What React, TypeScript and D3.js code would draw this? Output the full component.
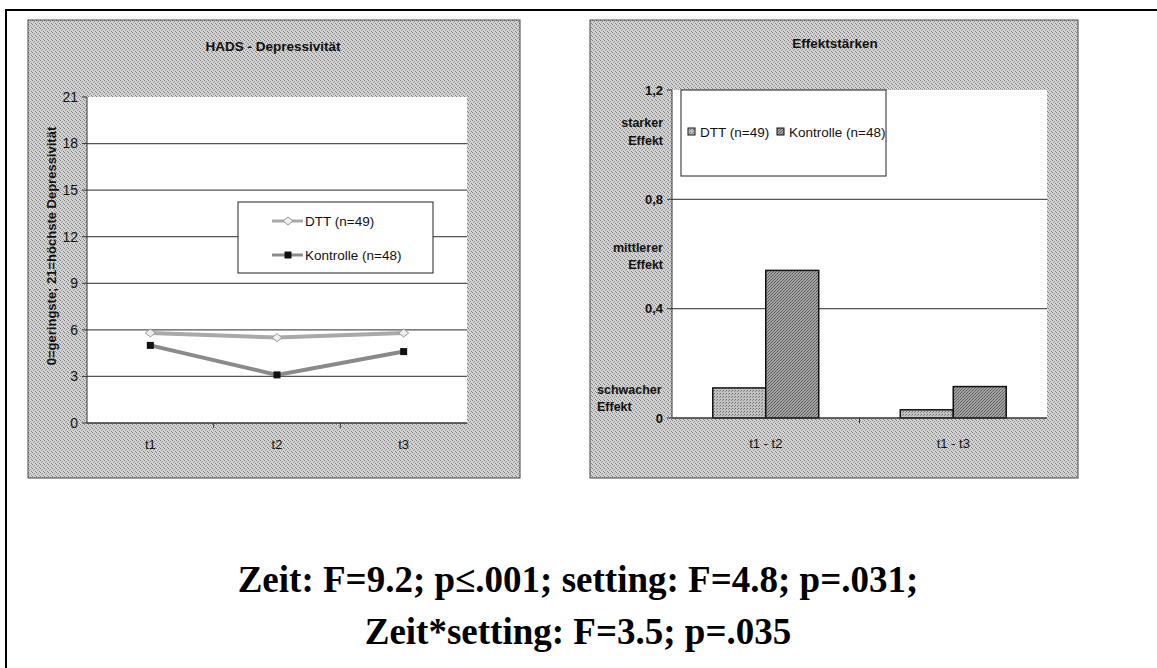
import React from "react";
import * as d3 from "d3";

// ---------- data ----------
const timePoints = ["t1", "t2", "t3"];
const lineSeries = ["DTT (n=49)", "Kontrolle (n=48)"];
const dttValues = [5.8, 5.5, 5.8];
const kontrolleValues = [5.0, 3.1, 4.6];
const leftTicks = [0, 3, 6, 9, 12, 15, 18, 21];
const leftGrid = [3, 6, 9, 12, 15, 18];

const effectCategories = ["t1 - t2", "t1 - t3"];
const barSeries = ["DTT (n=49)", "Kontrolle (n=48)"];
const dttEffects = [0.11, 0.03];
const kontrolleEffects = [0.54, 0.115];
const rightTicks = [0, 0.4, 0.8, 1.2];
const rightTickLabels = ["0", "0,4", "0,8", "1,2"];
const rightGrid = [0.4, 0.8];
const effectLabels = [
  { lines: ["starker", "Effekt"], value: 1.05, align: "end" },
  { lines: ["mittlerer", "Effekt"], value: 0.595, align: "end" },
  { lines: ["schwacher", "Effekt"], value: 0.075, align: "start" },
];

const statLines = [
  "Zeit: F=9.2; p\u2264.001; setting: F=4.8; p=.031;",
  "Zeit*setting: F=3.5; p=.035",
];

const SANS = "'Liberation Sans', Arial, sans-serif";
const SERIF = "'Liberation Serif', 'Times New Roman', serif";

export default function App() {
  // left chart scales
  const xL = d3.scaleBand<string>().domain(timePoints).range([87, 467]);
  const yL = d3.scaleLinear().domain([0, 21]).range([423, 97]);
  const lineGen = d3
    .line<number>()
    .x((_, i) => (xL(timePoints[i]) as number) + xL.bandwidth() / 2)
    .y((d) => yL(d));

  // right chart scales
  const x0 = d3
    .scaleBand<string>()
    .domain(effectCategories)
    .range([672, 1047])
    .paddingInner(0.435)
    .paddingOuter(0.2175);
  const x1 = d3.scaleBand<string>().domain(barSeries).range([0, x0.bandwidth()]);
  const yR = d3.scaleLinear().domain([0, 1.2]).range([418, 90]);
  const barData = [dttEffects, kontrolleEffects];
  const barFills = ["url(#barLight)", "url(#barDark)"];

  const lineColors = ["#a9a9a9", "#8a8a8a"];
  const seriesValues = [dttValues, kontrolleValues];

  return (
    <svg
      width={1157}
      height={668}
      style={{ position: "absolute", left: 0, top: 0, background: "#fff" }}
      fontFamily={SANS}
    >
      <defs>
        <pattern id="halftone" width="4" height="4" patternUnits="userSpaceOnUse">
          <rect width="4" height="4" fill="#d4d4d4" />
          <rect x="0" y="0" width="1" height="1" fill="#7a7a7a" />
          <rect x="2" y="1" width="1" height="1" fill="#8c8c8c" />
          <rect x="1" y="2" width="1" height="1" fill="#9a9a9a" />
          <rect x="3" y="3" width="1" height="1" fill="#808080" />
        </pattern>
        <pattern id="barLight" width="3" height="3" patternUnits="userSpaceOnUse">
          <rect width="3" height="3" fill="#c2c2c2" />
          <rect x="0" y="0" width="1" height="1" fill="#6e6e6e" />
          <rect x="2" y="1" width="1" height="1" fill="#8a8a8a" />
        </pattern>
        <pattern id="barDark" width="3" height="3" patternUnits="userSpaceOnUse">
          <rect width="3" height="3" fill="#a4a4a4" />
          <rect x="0" y="0" width="1" height="1" fill="#555" />
          <rect x="1" y="2" width="1" height="1" fill="#5e5e5e" />
          <rect x="2" y="1" width="1" height="1" fill="#6a6a6a" />
        </pattern>
      </defs>

      {/* outer frame */}
      <line x1={5} y1={10} x2={1157} y2={10} stroke="#000" strokeWidth={2} />
      <line x1={6} y1={10} x2={6} y2={668} stroke="#000" strokeWidth={2} />

      {/* ---------------- LEFT CHART ---------------- */}
      <rect x={28} y={20} width={492} height={458} fill="url(#halftone)" stroke="#444" strokeWidth={1} />
      <text x={273} y={51} textAnchor="middle" fontSize={13.5} fontWeight="bold" fill="#111">
        HADS - Depressivität
      </text>
      <rect x={87} y={97} width={380} height={326} fill="#fff" />
      {leftGrid.map((v) => (
        <line key={v} x1={87} x2={467} y1={yL(v)} y2={yL(v)} stroke="#555" strokeWidth={1.2} />
      ))}
      <line x1={87} x2={87} y1={97} y2={423} stroke="#333" strokeWidth={1} />
      <line x1={87} x2={467} y1={423} y2={423} stroke="#333" strokeWidth={1.5} />
      {leftTicks.map((v) => (
        <g key={v}>
          <line x1={82} x2={87} y1={yL(v)} y2={yL(v)} stroke="#333" />
          <text x={78} y={yL(v)} dy="0.35em" textAnchor="end" fontSize={14} fill="#111">
            {v}
          </text>
        </g>
      ))}
      {[1, 2].map((i) => (
        <line
          key={i}
          x1={87 + i * xL.bandwidth()}
          x2={87 + i * xL.bandwidth()}
          y1={423}
          y2={428}
          stroke="#333"
        />
      ))}
      {timePoints.map((t) => (
        <text
          key={t}
          x={(xL(t) as number) + xL.bandwidth() / 2}
          y={449}
          textAnchor="middle"
          fontSize={13}
          fill="#111"
        >
          {t}
        </text>
      ))}
      <text
        transform="translate(56,246) rotate(-90)"
        textAnchor="middle"
        fontSize={13}
        fontWeight="bold"
        fill="#111"
      >
        0=geringste; 21=höchste Depressivität
      </text>

      {seriesValues.map((vals, si) => (
        <g key={si}>
          <path d={lineGen(vals) as string} fill="none" stroke={lineColors[si]} strokeWidth={4} />
          {vals.map((v, i) => {
            const cx = (xL(timePoints[i]) as number) + xL.bandwidth() / 2;
            const cy = yL(v);
            return si === 0 ? (
              <path
                key={i}
                d={`M${cx - 5},${cy} L${cx},${cy - 4} L${cx + 5},${cy} L${cx},${cy + 4} Z`}
                fill="#eee"
                stroke="#999"
                strokeWidth={1}
              />
            ) : (
              <rect key={i} x={cx - 3.5} y={cy - 3.5} width={7} height={7} fill="#111" />
            );
          })}
        </g>
      ))}

      {/* left legend */}
      <rect x={238} y={202} width={195} height={71} fill="#fff" stroke="#222" strokeWidth={1} />
      {lineSeries.map((s, si) => {
        const cy = 221 + si * 34;
        return (
          <g key={s}>
            <line x1={272} x2={303} y1={cy} y2={cy} stroke={lineColors[si]} strokeWidth={3} />
            {si === 0 ? (
              <path
                d={`M${283},${cy} L${288},${cy - 4} L${293},${cy} L${288},${cy + 4} Z`}
                fill="#eee"
                stroke="#999"
              />
            ) : (
              <rect x={284.5} y={cy - 3.5} width={7} height={7} fill="#111" />
            )}
            <text x={305} y={cy} dy="0.35em" fontSize={13.5} fill="#111">
              {s}
            </text>
          </g>
        );
      })}

      {/* ---------------- RIGHT CHART ---------------- */}
      <rect x={590} y={20} width={488} height={458} fill="url(#halftone)" stroke="#444" strokeWidth={1} />
      <text x={835} y={48} textAnchor="middle" fontSize={13.5} fontWeight="bold" fill="#111">
        Effektstärken
      </text>
      <rect x={672} y={90} width={375} height={328} fill="#fff" />
      {rightGrid.map((v) => (
        <line key={v} x1={672} x2={1047} y1={yR(v)} y2={yR(v)} stroke="#555" strokeWidth={1.2} />
      ))}
      {effectCategories.map((c, ci) =>
        barSeries.map((s, si) => {
          const v = barData[si][ci];
          return (
            <rect
              key={c + s}
              x={(x0(c) as number) + (x1(s) as number)}
              y={yR(v)}
              width={x1.bandwidth()}
              height={yR(0) - yR(v)}
              fill={barFills[si]}
              stroke="#111"
              strokeWidth={1.5}
            />
          );
        })
      )}
      <line x1={672} x2={672} y1={90} y2={418} stroke="#333" strokeWidth={1} />
      <line x1={672} x2={1047} y1={418} y2={418} stroke="#333" strokeWidth={1.5} />
      {rightTicks.map((v, i) => (
        <g key={v}>
          <line x1={667} x2={672} y1={yR(v)} y2={yR(v)} stroke="#333" />
          <text
            x={663}
            y={yR(v)}
            dy="0.35em"
            textAnchor="end"
            fontSize={13}
            fontWeight="bold"
            fill="#111"
          >
            {rightTickLabels[i]}
          </text>
        </g>
      ))}
      <line x1={859.5} x2={859.5} y1={418} y2={423} stroke="#333" />
      {effectCategories.map((c) => (
        <text
          key={c}
          x={(x0(c) as number) + x0.bandwidth() / 2}
          y={448}
          textAnchor="middle"
          fontSize={13}
          fill="#111"
        >
          {c}
        </text>
      ))}
      {effectLabels.map((e) => (
        <text
          key={e.lines[0]}
          x={e.align === "end" ? 663 : 597}
          y={yR(e.value)}
          textAnchor={e.align}
          fontSize={12.5}
          fontWeight="bold"
          fill="#111"
        >
          <tspan x={e.align === "end" ? 663 : 597} dy="-0.3em">
            {e.lines[0]}
          </tspan>
          <tspan x={e.align === "end" ? 663 : 597} dy="1.4em">
            {e.lines[1]}
          </tspan>
        </text>
      ))}

      {/* right legend */}
      <rect x={681} y={90} width={205} height={86} fill="#fff" stroke="#222" strokeWidth={1} />
      {barSeries.map((s, si) => {
        const sx = si === 0 ? 688 : 777;
        return (
          <g key={s}>
            <rect x={sx} y={128} width={7} height={7} fill={barFills[si]} stroke="#111" strokeWidth={1} />
            <text x={sx + 12} y={132} dy="0.35em" fontSize={13.5} fill="#111">
              {s}
            </text>
          </g>
        );
      })}

      {/* ---------------- stats text ---------------- */}
      {statLines.map((l, i) => (
        <text
          key={i}
          x={578}
          y={592 + i * 52}
          textAnchor="middle"
          fontFamily={SERIF}
          fontSize={37}
          fontWeight="bold"
          fill="#000"
        >
          {l}
        </text>
      ))}
    </svg>
  );
}
